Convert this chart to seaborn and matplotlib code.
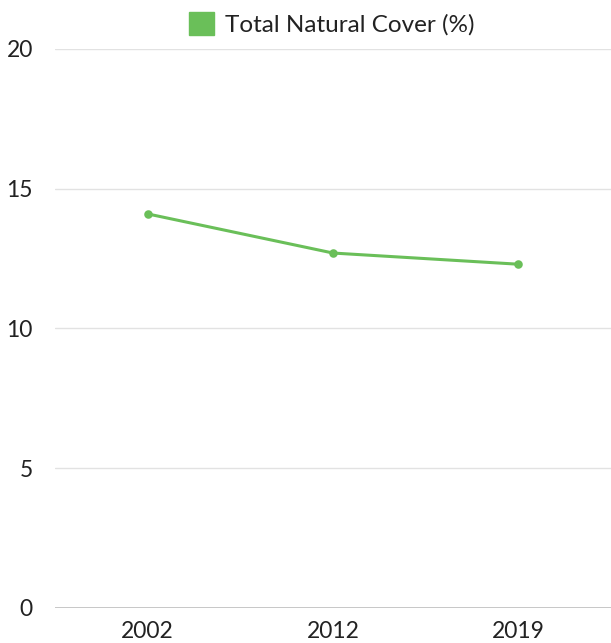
import matplotlib
matplotlib.use("Agg")
import matplotlib.pyplot as plt
import seaborn as sns
import pandas as pd
from matplotlib.patches import Patch

years = ["2002", "2012", "2019"]
natural_cover = [14.1, 12.7, 12.3]
series_name = "Total Natural Cover (%)"
y_ticks = [0, 5, 10, 15, 20]

df = pd.DataFrame({"year": years, "value": natural_cover})

sns.set_theme(style="white")
plt.rcParams["font.family"] = ["Lato", "DejaVu Sans"]

green = "#6abf59"

fig = plt.figure(figsize=(6.11, 6.43), dpi=100)
ax = fig.add_axes([55 / 611, 1 - 608 / 643, 556 / 611, (608 - 49) / 643])

sns.pointplot(data=df, x="year", y="value", ax=ax, color=green,
              marker="o", linewidth=2.2, markersize=4.5,
              errorbar=None)

ax.set_ylim(0, 20)
ax.set_xlim(-0.5, 2.5)
ax.set_yticks(y_ticks)
ax.set_yticklabels([str(t) for t in y_ticks])
ax.set_xlabel("")
ax.set_ylabel("")

for t in y_ticks:
    ax.axhline(t, color="#bdbdbd" if t == 0 else "#e2e2e2",
               linewidth=1.2 if t == 0 else 1.0, zorder=0)

for s in ax.spines.values():
    s.set_visible(False)

ax.tick_params(axis="y", length=0, pad=16, labelsize=16.5, labelcolor="#222222")
ax.tick_params(axis="x", length=0, pad=9, labelsize=16.5, labelcolor="#222222")

handle = Patch(facecolor=green, edgecolor=green)
fig.legend([handle], [series_name], loc="upper center",
           bbox_to_anchor=(0.543, 1.015), frameon=False, fontsize=17.5,
           handlelength=1.05, handleheight=1.05, handletextpad=0.45,
           labelcolor="#222222")

fig.savefig("out.png", dpi=100)
